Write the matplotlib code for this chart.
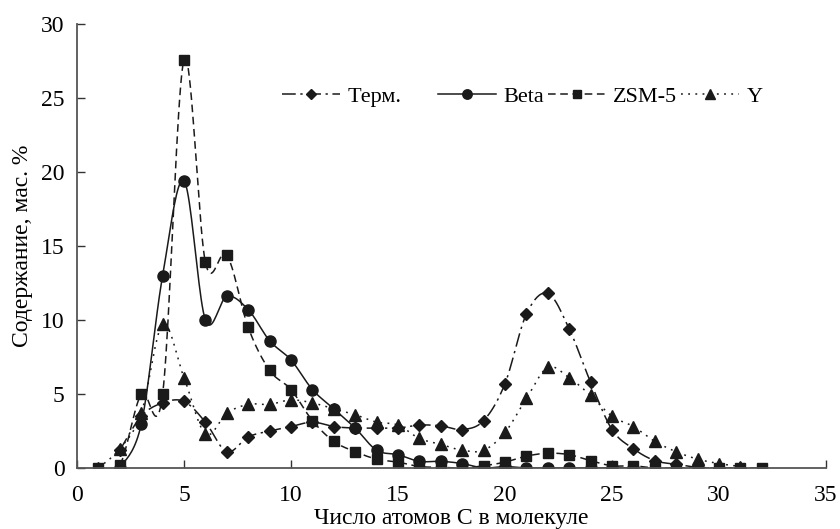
import numpy as np
import matplotlib
matplotlib.use("Agg")
import matplotlib.pyplot as plt

plt.rcParams['font.family'] = 'serif'
plt.rcParams['font.serif'] = ['Liberation Serif', 'DejaVu Serif']
plt.rcParams['axes.formatter.use_mathtext'] = False

# ---- data ----
x_term = list(range(2, 32))
y_term = [1.2, 3.5, 4.4, 4.5, 3.1, 1.1, 2.1, 2.5, 2.8, 3.1, 2.8, 2.7, 2.7, 2.7,
          2.9, 2.85, 2.6, 3.2, 5.7, 10.4, 11.8, 9.4, 5.8, 2.6, 1.3, 0.5, 0.25,
          0.05, 0.0, 0.0]

x_beta = list(range(2, 27))
y_beta = [0.0, 2.95, 13.0, 19.4, 10.0, 11.6, 10.7, 8.6, 7.3, 5.3, 4.0, 2.7,
          1.2, 0.9, 0.45, 0.45, 0.3, 0.0, 0.1, 0.0, 0.0, 0.0, 0.0, 0.0, 0.0]

x_zsm = list(range(1, 33))
y_zsm = [0.0, 0.2, 5.0, 5.0, 27.6, 13.9, 14.4, 9.5, 6.6, 5.3, 3.2, 1.8, 1.1,
         0.6, 0.4, 0.1, 0.05, 0.0, 0.15, 0.4, 0.8, 1.0, 0.9, 0.5, 0.15, 0.15,
         0.0, 0.0, 0.0, 0.0, 0.0, 0.0]

x_y = list(range(1, 32))
y_y = [0.0, 1.3, 3.7, 9.7, 6.1, 2.3, 3.7, 4.3, 4.3, 4.6, 4.4, 4.0, 3.6, 3.1,
       2.9, 2.0, 1.6, 1.2, 1.2, 2.4, 4.7, 6.8, 6.1, 4.9, 3.5, 2.8, 1.8, 1.1,
       0.6, 0.3, 0.1]

labels = ['Терм.', 'Beta', 'ZSM-5', 'Y']
x_ticks = [0, 5, 10, 15, 20, 25, 30, 35]
y_ticks = [0, 5, 10, 15, 20, 25, 30]


def smooth(xs, ys, n=20):
    """Excel-like smoothed curve (Catmull-Rom / cubic Bezier with 1/6 tension)."""
    xs = np.asarray(xs, float)
    ys = np.asarray(ys, float)
    px = np.concatenate([[xs[0]], xs, [xs[-1]]])
    py = np.concatenate([[ys[0]], ys, [ys[-1]]])
    outx, outy = [], []
    t = np.linspace(0, 1, n, endpoint=False)
    for i in range(1, len(px) - 2):
        p0 = np.array([px[i], py[i]])
        p3 = np.array([px[i + 1], py[i + 1]])
        p1 = p0 + (np.array([px[i + 1], py[i + 1]]) - np.array([px[i - 1], py[i - 1]])) / 6
        p2 = p3 - (np.array([px[i + 2], py[i + 2]]) - np.array([px[i], py[i]])) / 6
        b = ((1 - t) ** 3)[:, None] * p0 + (3 * (1 - t) ** 2 * t)[:, None] * p1 \
            + (3 * (1 - t) * t ** 2)[:, None] * p2 + (t ** 3)[:, None] * p3
        outx.extend(b[:, 0])
        outy.extend(b[:, 1])
    outx.append(xs[-1])
    outy.append(ys[-1])
    return np.array(outx), np.array(outy)


fig = plt.figure(figsize=(8.4, 5.29), dpi=100)
ax = fig.add_axes([0.0917, 0.1153, 0.8916, 0.8393])

series = [
    (x_term, y_term, 'D', (0, (9, 3, 1.5, 3)), 6.5),
    (x_beta, y_beta, 'o', '-', 8),
    (x_zsm, y_zsm, 's', (0, (5, 3)), 7.5),
    (x_y, y_y, '^', (0, (1.2, 3.5)), 8),
]
handles = []
for (xs, ys, m, ls, ms), lab in zip(series, labels):
    sx, sy = smooth(xs, ys)
    ax.plot(sx, sy, color='#1a1a1a', lw=1.1, ls=ls)
    ax.plot(xs, ys, ls='none', marker=m, ms=ms, color='#1a1a1a')
    h, = ax.plot([], [], color='#1a1a1a', lw=1.1, ls=ls, marker=m, ms=ms * 0.85)
    handles.append(h)

ax.set_xlim(0, 35)
ax.set_ylim(0, 30)
ax.set_xticks(x_ticks)
ax.set_yticks(y_ticks)
ax.set_xticklabels([str(v) for v in x_ticks], fontfamily='Liberation Serif')
ax.set_yticklabels([str(v) for v in y_ticks], fontfamily='Liberation Serif')
ax.tick_params(direction='in', length=6, width=1, labelsize=17, color='#333333')
ax.tick_params(axis='x', pad=12)
ax.tick_params(axis='y', pad=9)
for s in ['top', 'right']:
    ax.spines[s].set_visible(False)
for s in ['left', 'bottom']:
    ax.spines[s].set_color('#555555')
    ax.spines[s].set_linewidth(1.3)

ax.set_xlabel('Число атомов С в молекуле', fontsize=17, labelpad=2,
              fontfamily='Liberation Serif')
ax.set_ylabel('Содержание, мас. %', fontsize=17, labelpad=6,
              fontfamily='Liberation Serif')

leg_labels = ['Терм.      ', 'Beta', 'ZSM-5', 'Y']
fig.legend(handles, leg_labels, loc='center', bbox_to_anchor=(0.622, 0.818),
           ncol=4, frameon=False, handlelength=2.6,
           prop={'family': 'Liberation Serif', 'size': 16},
           handletextpad=0.35, columnspacing=0.15, borderpad=0)

fig.savefig('out.png', dpi=100)
